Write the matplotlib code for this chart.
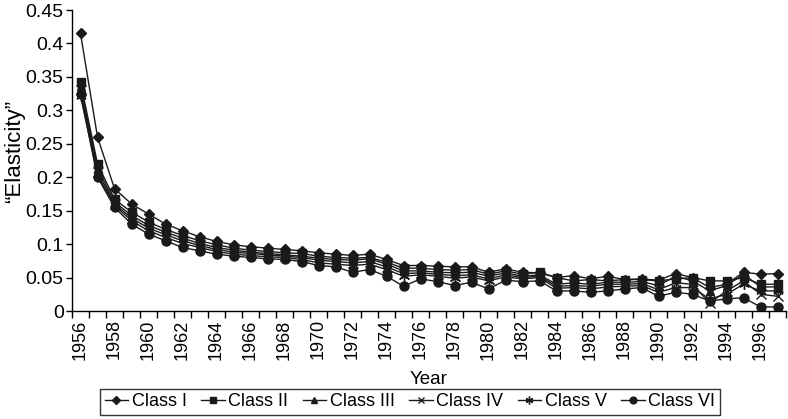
import numpy as np
import matplotlib
matplotlib.use("Agg")
import matplotlib.pyplot as plt

plt.rcParams['font.family'] = ['Liberation Sans', 'DejaVu Sans']

years = list(range(1956, 1998))

class_1 = [0.415, 0.26, 0.183, 0.16, 0.145, 0.13, 0.12, 0.111, 0.104, 0.099, 0.096, 0.094, 0.092, 0.09,
           0.087, 0.085, 0.083, 0.085, 0.077, 0.068, 0.068, 0.067, 0.066, 0.066, 0.058, 0.063, 0.058, 0.057,
           0.050, 0.053, 0.048, 0.052, 0.047, 0.048, 0.046, 0.056, 0.050, 0.035, 0.040, 0.058, 0.055, 0.056]
class_2 = [0.342, 0.22, 0.167, 0.148, 0.133, 0.122, 0.113, 0.105, 0.099, 0.094, 0.091, 0.089, 0.087, 0.086,
           0.082, 0.080, 0.079, 0.080, 0.073, 0.064, 0.064, 0.062, 0.061, 0.062, 0.055, 0.060, 0.055, 0.058,
           0.050, 0.045, 0.047, 0.045, 0.047, 0.047, 0.045, 0.048, 0.050, 0.045, 0.045, 0.050, 0.040, 0.040]
class_3 = [0.336, 0.214, 0.163, 0.143, 0.128, 0.118, 0.109, 0.101, 0.095, 0.091, 0.088, 0.086, 0.084, 0.082,
           0.079, 0.077, 0.076, 0.078, 0.070, 0.060, 0.060, 0.058, 0.057, 0.058, 0.052, 0.057, 0.052, 0.054,
           0.040, 0.042, 0.040, 0.043, 0.043, 0.044, 0.038, 0.052, 0.045, 0.030, 0.038, 0.055, 0.036, 0.036]
class_4 = [0.330, 0.208, 0.160, 0.139, 0.124, 0.114, 0.105, 0.098, 0.092, 0.088, 0.086, 0.084, 0.082, 0.080,
           0.076, 0.074, 0.072, 0.074, 0.066, 0.056, 0.057, 0.055, 0.053, 0.054, 0.048, 0.054, 0.050, 0.052,
           0.037, 0.038, 0.037, 0.040, 0.040, 0.041, 0.032, 0.042, 0.040, 0.012, 0.030, 0.045, 0.025, 0.022]
class_5 = [0.322, 0.203, 0.158, 0.135, 0.120, 0.110, 0.101, 0.095, 0.089, 0.085, 0.083, 0.081, 0.080, 0.077,
           0.072, 0.070, 0.068, 0.070, 0.062, 0.052, 0.054, 0.052, 0.049, 0.051, 0.045, 0.051, 0.048, 0.050,
           0.034, 0.035, 0.033, 0.036, 0.037, 0.038, 0.028, 0.035, 0.035, 0.018, 0.025, 0.040, 0.030, 0.030]
class_6 = [0.325, 0.200, 0.155, 0.130, 0.115, 0.105, 0.095, 0.090, 0.085, 0.082, 0.080, 0.078, 0.077, 0.074,
           0.068, 0.066, 0.058, 0.062, 0.052, 0.037, 0.048, 0.044, 0.038, 0.043, 0.033, 0.046, 0.044, 0.045,
           0.030, 0.030, 0.028, 0.030, 0.033, 0.035, 0.022, 0.028, 0.025, 0.015, 0.018, 0.020, 0.006, 0.006]

labels = ['Class I', 'Class II', 'Class III', 'Class IV', 'Class V', 'Class VI']
series = [class_1, class_2, class_3, class_4, class_5, class_6]
markers = ['D', 's', '^', 'x', (6, 2, 0), 'o']
msizes = [5.5, 6, 6, 6.5, 7.5, 6.5]

fig = plt.figure(figsize=(7.88, 4.19), dpi=100)
ax = fig.add_axes([72 / 788, 1 - 311 / 419, 714 / 788, 301 / 419])

col = '#1a1a1a'
for vals, lab, m, ms in zip(series, labels, markers, msizes):
    ax.plot(years, vals, color=col, lw=1, marker=m, markersize=ms, mec=col, mfc=col,
            mew=1, label=lab)

ax.set_xlim(1955.5, 1997.5)
ax.set_ylim(0, 0.45)
ax.set_yticks(np.arange(0, 0.451, 0.05))
ax.set_yticklabels(['0', '0.05', '0.1', '0.15', '0.2', '0.25', '0.3', '0.35', '0.4', '0.45'])
ax.set_xticks(years[::2])
ax.set_xticklabels([str(y) for y in years[::2]], rotation=90)
ax.set_xticks(np.arange(1955.5, 1998, 1), minor=True)
ax.tick_params(axis='x', which='major', length=0, pad=6, labelsize=13)
ax.tick_params(axis='x', which='minor', length=5, width=1, direction='out')
ax.tick_params(axis='y', length=4, width=1, direction='out', pad=2, labelsize=14)

for s in ['top', 'right']:
    ax.spines[s].set_visible(False)
for s in ['left', 'bottom']:
    ax.spines[s].set_linewidth(1)

ax.set_xlabel('Year', fontsize=13.5, labelpad=8)
ax.set_ylabel('\u201cElasticity\u201d', fontsize=16, labelpad=4)
ax.yaxis.set_label_coords(-0.065, 0.53)

leg = fig.legend(loc='lower center', bbox_to_anchor=(410 / 788, 4 / 419), ncol=6,
                 fontsize=13, markerscale=0.75,
                 frameon=True, fancybox=False, edgecolor='black', handlelength=1.3,
                 handletextpad=0.2, columnspacing=0.8, borderpad=0.25, borderaxespad=0.0)
leg.get_frame().set_linewidth(1)

fig.savefig('out.png', dpi=100)
